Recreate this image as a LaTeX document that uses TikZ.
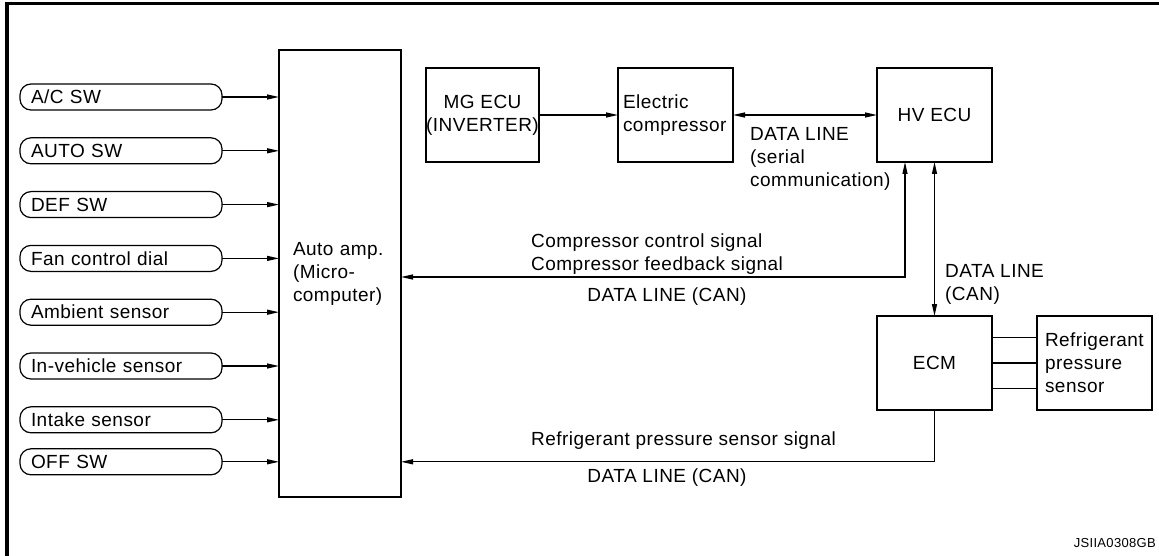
\documentclass[tikz,border=0pt]{standalone}
\usepackage{fontspec}
\setmainfont[LetterSpace=2.5]{Liberation Sans}
\usetikzlibrary{arrows.meta, positioning}

\begin{document}
\begin{tikzpicture}[
    x=1pt, y=1pt,
    font=\fontsize{19pt}{23pt}\selectfont,
    >={Triangle[length=12pt, width=5pt]},
    node distance=27.8pt,
    box/.style={draw, line width=1.2pt, outer sep=0pt, inner xsep=0pt, minimum width=115pt, minimum height=94pt, align=center},
    tbox/.style={box, inner xsep=5pt, text width=105pt, align=left},
    ampbox/.style={draw, line width=1.2pt, outer sep=0pt, minimum height=447pt, inner xsep=14pt, text width=94pt, align=left},
    inp/.style={draw, line width=1.2pt, rounded corners=11pt, outer sep=0pt, minimum height=26pt, inner ysep=0pt, inner xsep=11pt, text width=180pt, align=left},
    line/.style={line width=1.2pt},
    arw/.style={line, ->},
    biarw/.style={line, <->},
    lbl/.style={inner sep=0pt, align=left}
]
\useasboundingbox (0,0) rectangle (1159,-556);

% ===== FRAME =====
\draw[line width=3.4pt, line join=miter] (7,-560) -- (7,-3.3) -- (1165,-3.3);

% ===== AUTO AMP =====
\node[ampbox, anchor=north west] (amp) at (279,-50) {Auto amp.\\(Micro-\\computer)};

% ===== INPUTS (left column) =====
\node[inp, anchor=west] (ac) at (20,-97) {A/C SW};
\node[inp, below=of ac] (auto) {AUTO SW};
\node[inp, below=of auto] (def) {DEF SW};
\node[inp, below=of def] (fan) {Fan control dial};
\node[inp, below=of fan] (amb) {Ambient sensor};
\node[inp, below=of amb] (inveh) {In-vehicle sensor};
\node[inp, below=of inveh] (intake) {Intake sensor};
\node[inp, below=16pt of intake] (off) {OFF SW};

% ===== TOP ROW =====
\node[box, minimum width=113pt, anchor=north west] (mg) at (426,-68) {MG ECU\\(INVERTER)};
\node[tbox, anchor=north west] (ec) at (618,-68) {Electric\\compressor};
\node[box, right=144pt of ec] (hv) {HV ECU};

% ===== RIGHT COLUMN =====
\node[box, below=154pt of hv] (ecm) {ECM};
\node[box, right=45pt of ecm, inner xsep=8pt, text width=99pt, align=left] (rps) {Refrigerant\\pressure\\sensor};

% ===== LABELS =====
\node[lbl, anchor=west] (dlser) at (750,-159) {DATA LINE\\(serial\\communication)};
\node[lbl, anchor=west] (csig) at (531,-254) {Compressor control signal\\Compressor feedback signal};
\node[lbl, anchor=center] (dlcan1) at (667,-297) {DATA LINE (CAN)};
\node[lbl, anchor=west] (dlcan2) at (945,-284) {DATA LINE\\(CAN)};
\node[lbl, anchor=west] (rsig) at (531,-441) {Refrigerant pressure sensor signal};
\node[lbl, anchor=center] (dlcan3) at (667,-478) {DATA LINE (CAN)};
\node[lbl, anchor=east, font=\fontsize{13pt}{15pt}\selectfont] (code) at (1156,-543) {JSIIA0308GB};

% ===== CONNECTIONS =====

% Inputs into auto amp
\draw[arw] (ac.east) -- (ac.east -| amp.west);
\draw[arw] (auto.east) -- (auto.east -| amp.west);
\draw[arw] (def.east) -- (def.east -| amp.west);
\draw[arw] (fan.east) -- (fan.east -| amp.west);
\draw[arw] (amb.east) -- (amb.east -| amp.west);
\draw[arw] (inveh.east) -- (inveh.east -| amp.west);
\draw[arw] (intake.east) -- (intake.east -| amp.west);
\draw[arw] (off.east) -- (off.east -| amp.west);

% Top row
\draw[arw] (mg) -- (ec);
\draw[biarw] (ec) -- (hv);

% HV ECU to auto amp and ECM
\draw[biarw] ([xshift=28pt]hv.south west) |- ([yshift=-3.5pt]amp.east);
\draw[biarw] (hv) -- (ecm);

% ECM to auto amp
\draw[arw] (ecm.south) |- (off -| amp.east);

% ECM to refrigerant pressure sensor
\draw[line] ([yshift=25.5pt]ecm.east) -- ([yshift=25.5pt]rps.west);
\draw[line] (ecm.east) -- (rps.west);
\draw[line] ([yshift=-25.5pt]ecm.east) -- ([yshift=-25.5pt]rps.west);

\end{tikzpicture}
\end{document}
